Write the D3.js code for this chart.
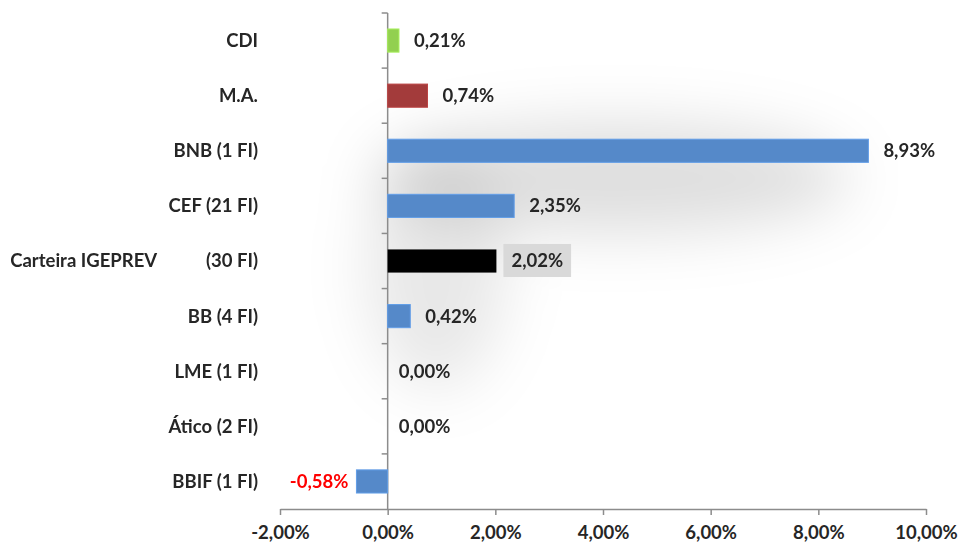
<!DOCTYPE html>
<html>
<head>
<meta charset="utf-8">
<script src="https://cdn.jsdelivr.net/npm/d3@7"></script>
<style>
  body { margin: 0; background: #fff; }
  svg { font-family: Lato, "Open Sans", sans-serif; }
  .cat { font-size: 18.5px; font-weight: 700; fill: #262626; white-space: pre; }
  .val { font-size: 18.5px; font-weight: 700; fill: #262626; }
  .axis text { font-size: 18.5px; font-weight: 700; fill: #262626; font-family: Lato, sans-serif; }
  .axis path, .axis line { stroke: #8c8c8c; stroke-width: 1.5; }
</style>
</head>
<body>
<svg id="chart" width="960" height="544"></svg>
<script>
// Data
const categories = ['CDI', 'M.A.', 'BNB (1 FI)', 'CEF (21 FI)', 'Carteira IGEPREV           (30 FI)',
                    'BB (4 FI)', 'LME (1 FI)', 'Ático (2 FI)', 'BBIF (1 FI)'];
const values = [0.21, 0.74, 8.93, 2.35, 2.02, 0.42, 0.00, 0.00, -0.58];
const barColors = ['#92d050', '#a33b3b', '#5589c9', '#5589c9', '#000000',
                   '#5589c9', '#5589c9', '#5589c9', '#5589c9'];
const xTicks = [-2, 0, 2, 4, 6, 8, 10];

const svg = d3.select('#chart');
const locale = d3.formatLocale({ decimal: ',', thousands: '.', grouping: [3], currency: ['', ''], minus: '-' });
const fmt = d => locale.format('.2f')(d) + '%';

// Scales
const x = d3.scaleLinear().domain([-2, 10]).range([280, 926]);
const y = d3.scaleBand().domain(categories).range([13, 509])
    .paddingInner(0.58).paddingOuter(0.29);

// Soft shadow behind the plot
const defs = svg.append('defs');
defs.append('filter').attr('id', 'blur')
    .attr('x', '-50%').attr('y', '-50%').attr('width', '200%').attr('height', '200%')
  .append('feGaussianBlur').attr('stdDeviation', 30);

const yMid = (y('BNB (1 FI)') + y('CEF (21 FI)')) / 2 + y.bandwidth() / 2;
const shadow = svg.append('g').attr('filter', 'url(#blur)');
shadow.append('ellipse')
    .attr('cx', x(4.2)).attr('cy', yMid)
    .attr('rx', x(8.6) - x(4.2)).attr('ry', 55)
    .attr('fill', '#000').attr('opacity', 0.13);
shadow.append('ellipse')
    .attr('cx', x(0.9)).attr('cy', y(categories[4]) + 20)
    .attr('rx', 70).attr('ry', 120)
    .attr('fill', '#000').attr('opacity', 0.09);

// X axis
const xAxis = d3.axisBottom(x)
    .tickValues(xTicks)
    .tickSize(6)
    .tickSizeOuter(0)
    .tickPadding(11)
    .tickFormat(fmt);

svg.append('g')
    .attr('class', 'axis x-axis')
    .attr('transform', `translate(0,${y.range()[1]})`)
    .call(xAxis);

// Vertical axis at zero with ticks on category boundaries
const yAxisG = svg.append('g').attr('class', 'axis');
yAxisG.append('line')
    .attr('x1', x(0)).attr('x2', x(0))
    .attr('y1', y.range()[0]).attr('y2', y.range()[1]);
yAxisG.selectAll('.btick')
    .data(d3.range(categories.length))
    .join('line')
    .attr('x1', x(0) - 6).attr('x2', x(0))
    .attr('y1', i => y.range()[0] + i * y.step())
    .attr('y2', i => y.range()[0] + i * y.step());

// Bars
svg.append('g').selectAll('rect')
    .data(values)
    .join('rect')
    .attr('x', d => x(Math.min(0, d)))
    .attr('y', (d, i) => y(categories[i]))
    .attr('width', d => Math.abs(x(d) - x(0)))
    .attr('height', y.bandwidth())
    .attr('fill', (d, i) => barColors[i])
    .attr('stroke', (d, i) => i === 4 ? 'none' : d3.color(barColors[i]).brighter(0.4))
    .attr('stroke-width', 1);

// Category labels
svg.append('g').selectAll('text')
    .data(categories)
    .join('text')
    .attr('class', 'cat')
    .attr('x', 258)
    .attr('y', d => y(d) + y.bandwidth() / 2)
    .attr('dy', '0.35em')
    .attr('text-anchor', 'end')
    .text(d => d);

// Value labels
const labels = svg.append('g').selectAll('g')
    .data(values)
    .join('g');

labels.append('text')
    .attr('class', 'val')
    .attr('x', d => d < 0 ? x(d) - 8 : (d === 0 ? x(0) + 11 : x(d) + 15))
    .attr('y', (d, i) => y(categories[i]) + y.bandwidth() / 2)
    .attr('dy', '0.35em')
    .attr('text-anchor', d => d < 0 ? 'end' : 'start')
    .style('fill', d => d < 0 ? '#ff0000' : null)
    .text(fmt);

// Highlighted label box for the portfolio total
labels.filter((d, i) => i === 4).each(function () {
    const t = d3.select(this).select('text');
    const b = t.node().getBBox();
    d3.select(this).insert('rect', 'text')
        .attr('x', b.x - 8).attr('y', b.y + b.height / 2 - 16.5)
        .attr('width', b.width + 16).attr('height', 33)
        .attr('fill', '#d9d9d9');
});
</script>
</body>
</html>
